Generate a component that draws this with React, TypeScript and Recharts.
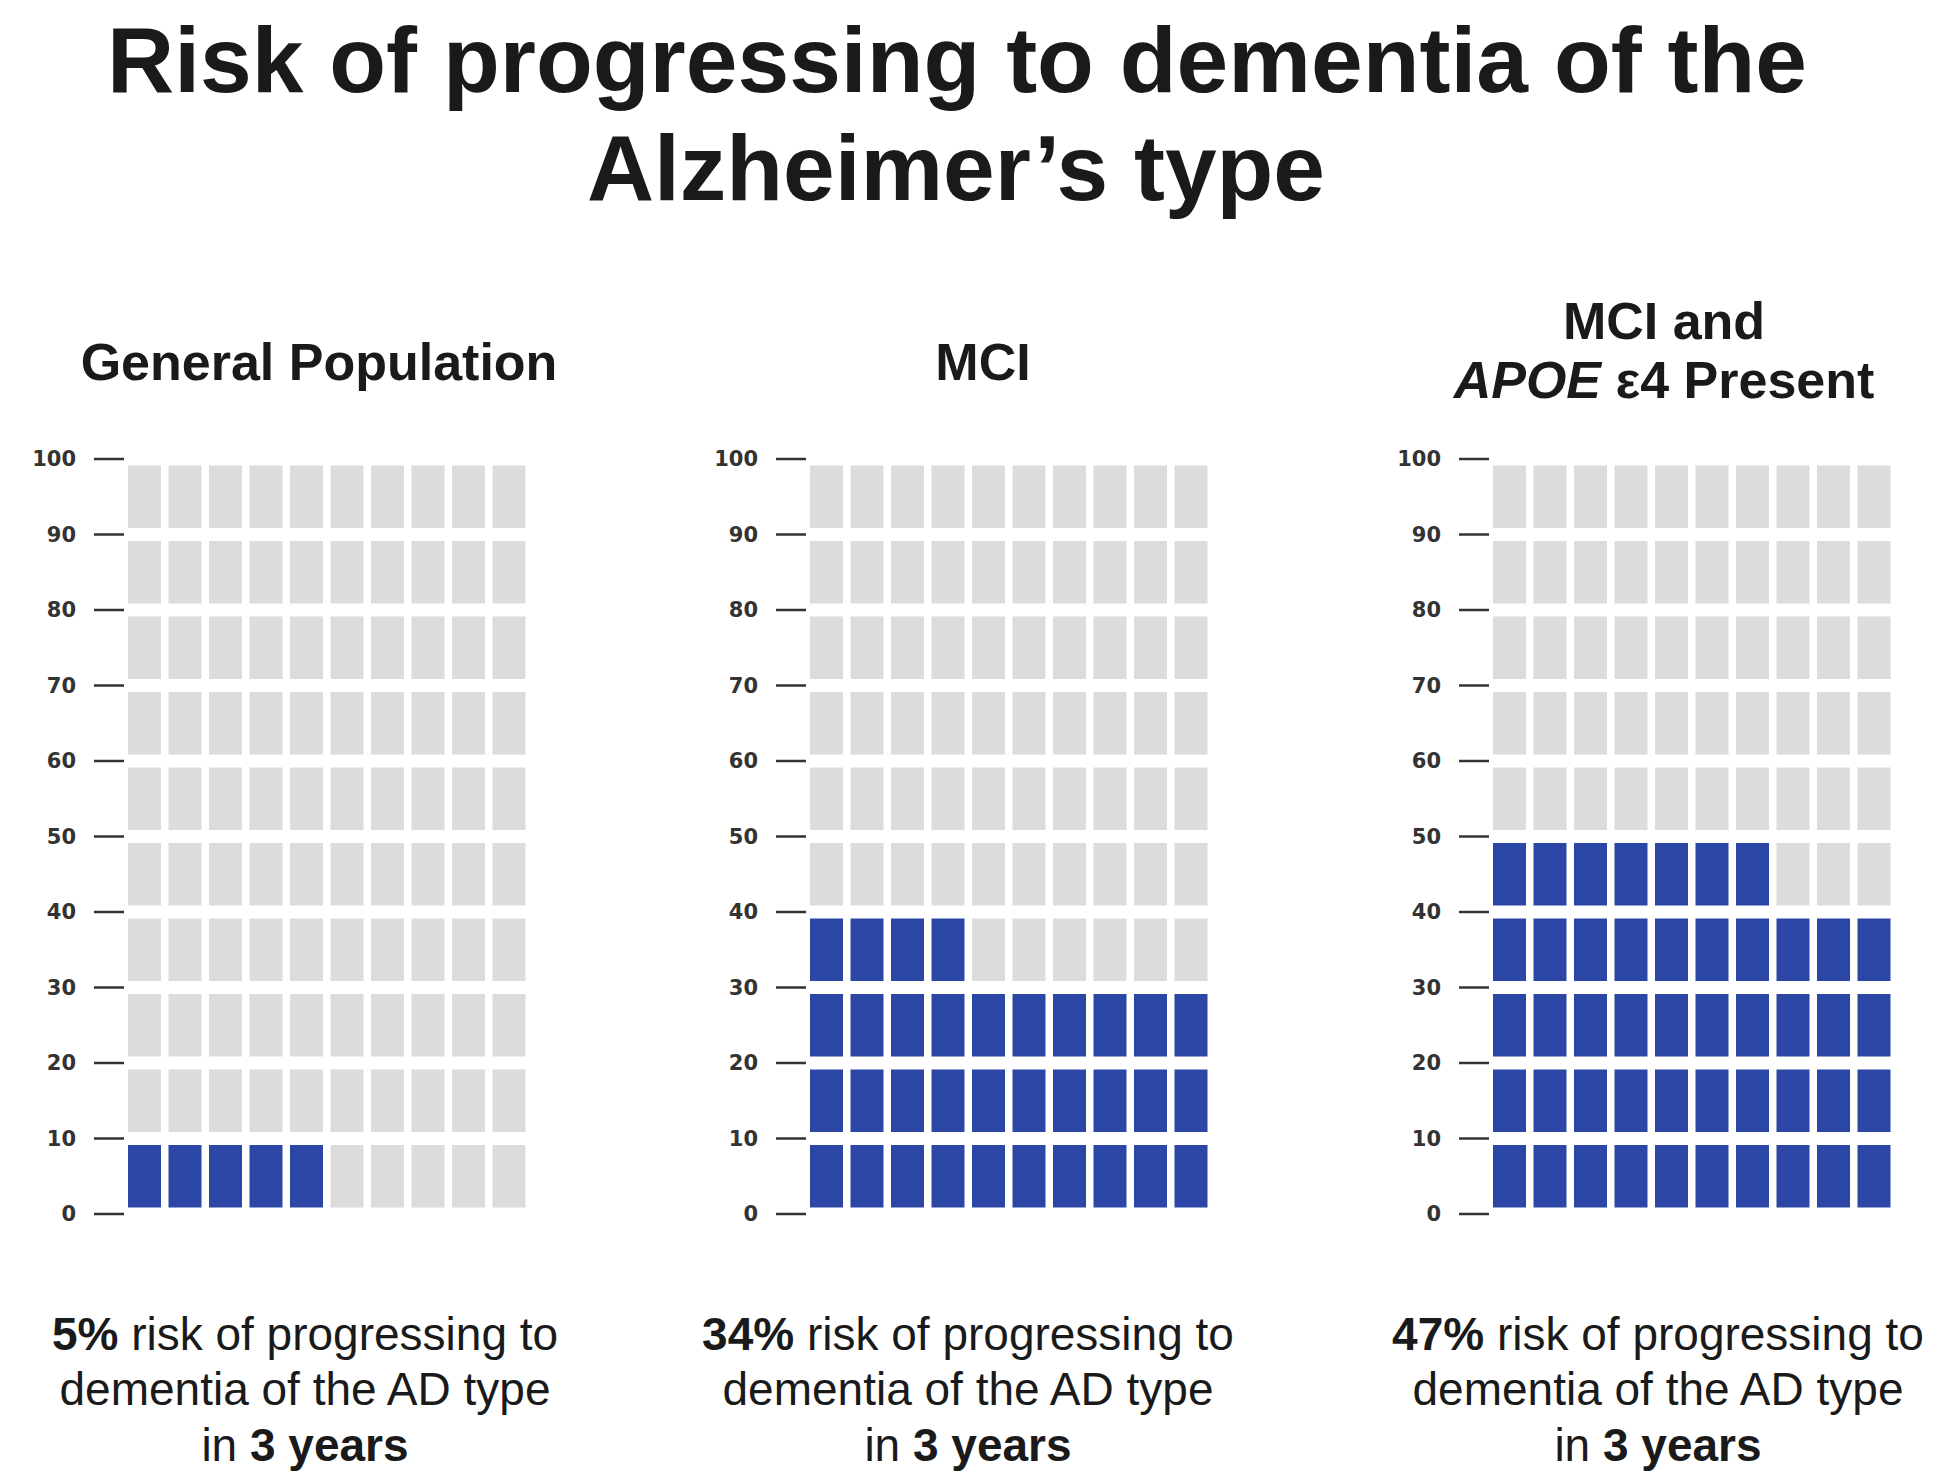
import React from 'react';
import { BarChart, Bar, XAxis, YAxis, Cell, Rectangle } from 'recharts';

const panelTitles = ['General Population', 'MCI', 'MCI and APOE ε4 Present'];
const riskPercent = [5, 34, 47];
const columns = ['1', '2', '3', '4', '5', '6', '7', '8', '9', '10'];
const rowKeys = ['r0', 'r1', 'r2', 'r3', 'r4', 'r5', 'r6', 'r7', 'r8', 'r9'];
const rowSpan = [10, 10, 10, 10, 10, 10, 10, 10, 10, 10];
const yTicks = [0, 10, 20, 30, 40, 50, 60, 70, 80, 90, 100];

const BLUE = '#2b46a4';
const GREY = '#dcdcdc';
const FONT = '"Liberation Sans", Arial, Helvetica, sans-serif';

// one row per column, every row key holds the height of one band
const tableData = columns.map((c) => {
  const row: Record<string, string | number> = { col: c };
  rowKeys.forEach((k, i) => (row[k] = rowSpan[i]));
  return row;
});

const chartLefts = [-4, 678, 1361];

const CellShape = (props: any) => {
  const { x, y, width, height, fill } = props;
  const inset = 6.5;
  return <Rectangle x={x} y={y + inset} width={width} height={Math.max(0, height - inset * 2)} fill={fill} />;
};

function Waffle({ percent }: { percent: number }) {
  return (
    <BarChart
      width={548}
      height={790}
      data={tableData}
      margin={{ top: 19, right: 15, bottom: 16, left: 0 }}
      barSize={33}
    >
      <XAxis dataKey="col" hide height={0} />
      <YAxis
        type="number"
        domain={[0, 100]}
        ticks={yTicks}
        interval={0}
        width={128}
        axisLine={false}
        tickSize={30}
        tickMargin={18}
        tickLine={{ stroke: '#333', strokeWidth: 2.5 }}
        tick={{ fontSize: 21, fontFamily: '"DejaVu Sans", sans-serif', fontWeight: 'bold', fill: '#333' }}
      />
      {rowKeys.map((k, r) => (
        <Bar key={k} dataKey={k} stackId="w" shape={<CellShape />} isAnimationActive={false}>
          {columns.map((c, ci) => (
            <Cell key={c} fill={r * columns.length + ci < percent ? BLUE : GREY} />
          ))}
        </Bar>
      ))}
    </BarChart>
  );
}

function App() {
  return (
    <div style={{ position: 'absolute', left: 0, top: 0, width: 1933, height: 1482, background: '#fff', overflow: 'hidden' }}>
      {riskPercent.map((p, i) => (
        <div key={i} style={{ position: 'absolute', left: chartLefts[i], top: 440 }}>
          <Waffle percent={p} />
        </div>
      ))}
      <svg width={1933} height={1482} style={{ position: 'absolute', left: 0, top: 0, pointerEvents: 'none' }}>
        <g fontFamily={FONT} fill="#1a1a1a" textAnchor="middle">
          <text x={957} y={92} fontSize={92} fontWeight="bold" textLength={1700} lengthAdjust="spacingAndGlyphs">
            Risk of progressing to dementia of the
          </text>
          <text x={956} y={200} fontSize={92} fontWeight="bold" textLength={738} lengthAdjust="spacingAndGlyphs">
            Alzheimer’s type
          </text>

          <text x={319} y={380} fontSize={52} fontWeight="bold">{panelTitles[0]}</text>
          <text x={983} y={380} fontSize={52} fontWeight="bold">{panelTitles[1]}</text>
          <text x={1664} y={339} fontSize={52} fontWeight="bold">MCI and</text>
          <text x={1664} y={398} fontSize={52} fontWeight="bold">
            <tspan fontStyle="italic">APOE</tspan> ε4 Present
          </text>

          {[305, 968, 1658].map((cx, i) => (
            <g key={i} fontSize={46}>
              <text x={cx} y={1350}>
                <tspan fontWeight="bold">{riskPercent[i]}%</tspan> risk of progressing to
              </text>
              <text x={cx} y={1405}>dementia of the AD type</text>
              <text x={cx} y={1461}>
                in <tspan fontWeight="bold">3 years</tspan>
              </text>
            </g>
          ))}
        </g>
      </svg>
    </div>
  );
}

export default App;
